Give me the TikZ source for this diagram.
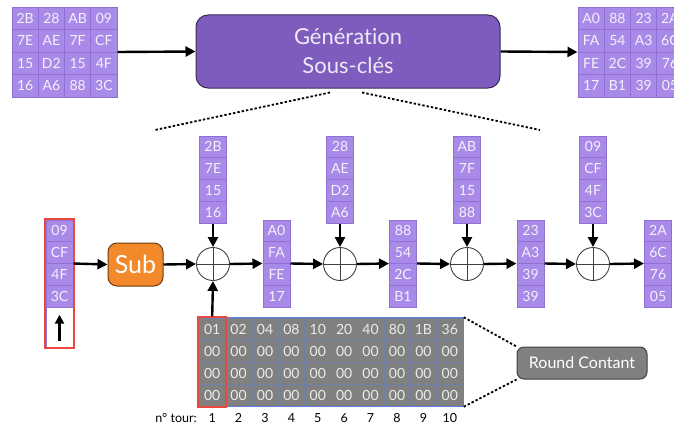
\documentclass[tikz,border=0pt]{standalone}
\usepackage{fontspec}
\setmainfont{Lato}[Ligatures=NoCommon]
\usetikzlibrary{arrows.meta,fit,calc}

\definecolor{lav}{HTML}{A98AE8}
\definecolor{lavline}{HTML}{9070D4}
\definecolor{lavtext}{HTML}{F4F0FC}
\definecolor{genfill}{HTML}{7D5CBD}
\definecolor{genline}{HTML}{3B2D57}
\definecolor{gentext}{HTML}{EEE8F8}
\definecolor{subfill}{HTML}{F2892A}
\definecolor{subline}{HTML}{6B3A10}
\definecolor{rcfill}{HTML}{808080}
\definecolor{rcgrid}{HTML}{6F7FA8}
\definecolor{rcblue}{HTML}{5C7FD8}
\definecolor{rctext}{HTML}{ECECEC}
\definecolor{redbox}{HTML}{E8483E}

% one column of four state bytes: name, x centre, top y, values
\newcommand\bytecol[4]{%
  \foreach \v [count=\k] in {#4} {%
    \node[vcell] (#1-\k) at (#2, {#3+21.75*(\k-0.5)}) {\v};}
  \node[fit=(#1-1)(#1-4), inner sep=0pt] (#1) {};}

\begin{document}
\begin{tikzpicture}[x=1pt,y=-1pt,
  cell/.style={draw=lavline, line width=0.6pt, fill=lav, text=lavtext,
    minimum width=26.25pt, minimum height=22.5pt, inner sep=0pt,
    font=\fontsize{14}{14}\selectfont},
  vcell/.style={cell, minimum width=27pt, minimum height=21.75pt},
  rccell/.style={draw=rcgrid, line width=0.5pt, fill=rcfill, text=rctext,
    minimum width=26.4pt, minimum height=22pt, inner sep=0pt,
    font=\fontsize{14}{14}\selectfont},
  flow/.style={line width=2.4pt, -{Triangle[length=10pt,width=10pt]}},
  xor/.style={circle, draw=black!75, line width=0.9pt, minimum size=33pt,
    inner sep=0pt, path picture={
      \draw[black!75, line width=0.9pt]
        (path picture bounding box.north) -- (path picture bounding box.south)
        (path picture bounding box.west) -- (path picture bounding box.east);}},
  dots/.style={line width=1.8pt, dash pattern=on 2.4pt off 2pt},
  redframe/.style={draw=redbox, line width=1.8pt, inner sep=0.4pt},
]
\useasboundingbox (0,0) rectangle (674,428);

% cipher key
\foreach \r [count=\j] in {{2B,28,AB,09},{7E,AE,7F,CF},{15,D2,15,4F},{16,A6,88,3C}} {
  \foreach \v [count=\i] in \r {
    \node[cell] (tl-\j-\i) at ({12+26.25*(\i-0.5)}, {7+22.5*(\j-0.5)}) {\v};}}
\node[fit=(tl-1-1)(tl-4-4), inner sep=0pt] (tlgrid) {};

% first round key
\foreach \r [count=\j] in {{A0,88,23,2A},{FA,54,A3,6C},{FE,2C,39,76},{17,B1,39,05}} {
  \foreach \v [count=\i] in \r {
    \node[cell] (tr-\j-\i) at ({578+26.25*(\i-0.5)}, {7+22.5*(\j-0.5)}) {\v};}}
\node[fit=(tr-1-1)(tr-4-4), inner sep=0pt] (trgrid) {};

% key schedule block
\node[draw=genline, line width=1pt, fill=genfill, rounded corners=12pt,
  minimum width=304pt, minimum height=73pt, text=gentext, align=center,
  font=\fontsize{22}{29}\selectfont] (gen) at (348,51.5) {Génération\\Sous-clés};

\draw[flow] (tlgrid.east) -- (gen.west);
\draw[flow] (gen.east) -- (trgrid.west);

\coordinate (zl) at (155,130);
\coordinate (zr) at (540,130);
\draw[dots] ([xshift=-18pt,yshift=-4pt]gen.south) -- (zl);
\draw[dots] ([xshift=14pt,yshift=-4pt]gen.south) -- (zr);

% last word of the key, rotated
\bytecol{s0}{59.5}{220}{09,CF,4F,3C}
\node[draw=lavline, line width=0.6pt, fill=white, minimum width=27pt,
  minimum height=40pt, inner sep=0pt] (arr) at (59.5,327) {};
\draw[line width=2.4pt, -{Triangle[length=9pt,width=9pt]}]
  ([yshift=6pt]arr.south) -- ([yshift=-8pt]arr.north);
\node[redframe, fit=(s0)(arr)] (keyframe) {};

% SubWord
\node[draw=subline, line width=1pt, fill=subfill, rounded corners=9pt,
  minimum width=55pt, minimum height=43pt, text=white,
  font=\fontsize{25}{25}\selectfont] (sub) at (135.5,264.5) {Sub};

% XOR chain
\node[xor] (x1) at (213,264) {};
\node[xor] (x2) at (340,264) {};
\node[xor] (x3) at (467,264) {};
\node[xor] (x4) at (593,264) {};

\bytecol{k1}{213}{136}{2B,7E,15,16}
\bytecol{k2}{340}{136}{28,AE,D2,A6}
\bytecol{k3}{467}{136}{AB,7F,15,88}
\bytecol{k4}{593}{136}{09,CF,4F,3C}

\bytecol{o1}{276.5}{220}{A0,FA,FE,17}
\bytecol{o2}{403}{220}{88,54,2C,B1}
\bytecol{o3}{530.5}{220}{23,A3,39,39}
\bytecol{o4}{658}{220}{2A,6C,76,05}

\draw[flow] (s0.east) -- (sub.west);
\draw[flow] (sub.east) -- (x1.west);
\draw[flow] (x1.east) -- (o1.west);
\draw[flow] (o1.east) -- (x2.west);
\draw[flow] (x2.east) -- (o2.west);
\draw[flow] (o2.east) -- (x3.west);
\draw[flow] (x3.east) -- (o3.west);
\draw[flow] (o3.east) -- (x4.west);
\draw[flow] (x4.east) -- (o4.west);
\foreach \n in {1,2,3,4} {\draw[flow] (k\n.south) -- (x\n.north);}

% round constants
\foreach \r [count=\j] in {{01,02,04,08,10,20,40,80,1B,36},
                          {00,00,00,00,00,00,00,00,00,00},
                          {00,00,00,00,00,00,00,00,00,00},
                          {00,00,00,00,00,00,00,00,00,00}} {
  \foreach \v [count=\i] in \r {
    \node[rccell] (rc-\j-\i) at ({199+26.4*(\i-0.5)}, {318+22*(\j-0.5)}) {\v};}}
\node[fit=(rc-1-1)(rc-4-10), inner sep=0pt, draw=rcblue, line width=1pt] (rctable) {};
\node[redframe, fit=(rc-1-1)(rc-4-1)] (rcframe) {};
\draw[flow] (rcframe.north) -- (x1.south);

\foreach \i in {1,...,10} {
  \node[font=\fontsize{12.5}{12.5}\selectfont, inner sep=0pt] (nt-\i)
    at ({199+26.4*(\i-0.5)}, 418) {\i};}
\node[font=\fontsize{12.5}{12.5}\selectfont, inner sep=0pt, anchor=east]
  (ntlabel) at (197,418) {n° tour:};

\node[draw=black!75, line width=1pt, fill=rcfill, rounded corners=7pt,
  minimum width=130pt, minimum height=32pt, text=white,
  font=\fontsize{16}{16}\selectfont] (rcname) at (582,363) {Round Contant};
\draw[dots] (rctable.north east) -- (rcname.north west);
\draw[dots] (rctable.south east) -- (rcname.south west);
\end{tikzpicture}
\end{document}
